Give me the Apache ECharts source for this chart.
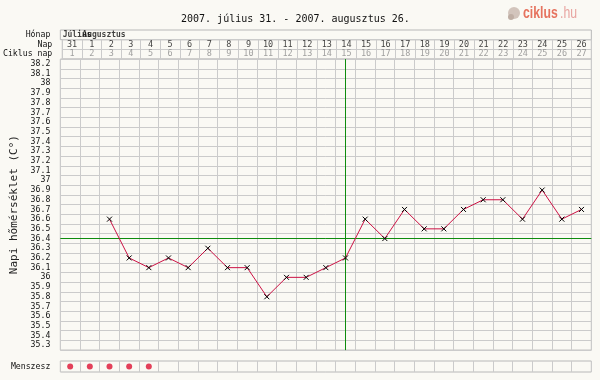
<!DOCTYPE html>
<html><head><meta charset="utf-8">
<script src="https://cdn.jsdelivr.net/npm/echarts@6/dist/echarts.min.js"></script>
<style>html,body{margin:0;padding:0;background:#FAF9F4}#c{width:600px;height:380px}</style>
</head><body><div id="c"></div>
<script>
const titleText = '2007. július 31. - 2007. augusztus 26.';
const monthNames = ['Július', 'Augusztus'];
const monthStartDays = ['31', '1'];
const days = ['31','1','2','3','4','5','6','7','8','9','10','11','12','13','14','15','16','17','18','19','20','21','22','23','24','25','26'];
const cycleDays = ['1','2','3','4','5','6','7','8','9','10','11','12','13','14','15','16','17','18','19','20','21','22','23','24','25','26','27'];
const tempTicks = ['35.3','35.4','35.5','35.6','35.7','35.8','35.9','36','36.1','36.2','36.3','36.4','36.5','36.6','36.7','36.8','36.9','37','37.1','37.2','37.3','37.4','37.5','37.6','37.7','37.8','37.9','38','38.1','38.2'];
const tempDays = ['2','3','4','5','6','7','8','9','10','11','12','13','14','15','16','17','18','19','20','21','22','23','24','25','26'];
const temps = [36.6,36.2,36.1,36.2,36.1,36.3,36.1,36.1,35.8,36.0,36.0,36.1,36.2,36.6,36.4,36.7,36.5,36.5,36.7,36.8,36.8,36.6,36.9,36.6,36.7];
const coverline = '36.4';
const ovulationDay = '14';
const mensesDays = ['31','1','2','3','4'];

const FONT = 'DejaVu Sans Mono';
const GRID_C = '#CBCBCB';
const BORDER_C = '#B8B8B8';
const GREEN = '#0E8C0E';
const L = 60.33, W = 531, RH = 9.7;

function catX(gi, split) {
  return {type:'category', gridIndex:gi, data:days, boundaryGap:true,
    axisLine:{show:false}, axisTick:{show:false}, axisLabel:{show:false},
    splitLine:{show:split, interval:0, lineStyle:{color:GRID_C, width:1}}};
}
function catY(gi, data, extra) {
  return Object.assign({type:'category', gridIndex:gi, data:data, boundaryGap:true,
    axisLine:{show:false}, axisTick:{show:false},
    axisLabel:{show:true, interval:0, margin:10, fontFamily:FONT, fontSize:8.2, color:'#111'},
    splitLine:{show:true, interval:0, lineStyle:{color:GRID_C, width:1}}}, extra||{});
}
const mlBase = {silent:true, symbol:'none', label:{show:false}, emphasis:{disabled:true},
  lineStyle:{color:GREEN, width:1, type:'solid', opacity:1}};

const chart = echarts.init(document.getElementById('c'), null, {renderer:'canvas'});
chart.setOption({
  backgroundColor:'#FAF9F4',
  animation:false,
  title:{text:titleText, left:176, top:9, textStyle:{fontFamily:FONT, fontSize:10, fontWeight:'normal', color:'#111'}},
  graphic:[
    {type:'circle', shape:{cx:514, cy:13, r:6}, style:{fill:'#D2C4BC'}},
    {type:'circle', shape:{cx:511, cy:17, r:3}, style:{fill:'#BFAEA4'}},
    {type:'text', x:523, y:5, scaleX:0.72, style:{text:'ciklus', font:'bold 17px "Liberation Sans"', fill:'#E6735F'}},
    {type:'text', x:560, y:5, scaleX:0.72, style:{text:'.hu', font:'17px "Liberation Sans"', fill:'#E8A4A0'}}
  ],
  grid:[
    {left:L, top:30, width:W, height:RH, show:true, borderColor:BORDER_C, borderWidth:1, backgroundColor:'transparent'},
    {left:L, top:30+RH, width:W, height:2*RH, show:true, borderColor:BORDER_C, borderWidth:1, backgroundColor:'transparent'},
    {left:L, top:30+3*RH, width:W, height:30*RH, show:true, borderColor:BORDER_C, borderWidth:1, backgroundColor:'transparent'},
    {left:L, top:361, width:W, height:11, show:true, borderColor:BORDER_C, borderWidth:1, backgroundColor:'transparent'}
  ],
  xAxis:[catX(0,false), catX(1,true), catX(2,true), catX(3,true)],
  yAxis:[
    catY(0, ['Hónap'], {splitLine:{show:false}}),
    catY(1, ['Ciklus nap','Nap']),
    catY(2, tempTicks, {name:'Napi hőmérséklet (C°)', nameLocation:'middle', nameGap:39,
      nameTextStyle:{fontFamily:FONT, fontSize:11, color:'#222'}}),
    catY(3, ['Menszesz'], {splitLine:{show:false}})
  ],
  series:[
    {type:'scatter', xAxisIndex:0, yAxisIndex:0, symbolSize:0, silent:true,
      data: monthNames.map((m,i)=>[monthStartDays[i],'Hónap',m]),
      label:{show:true, position:'right', distance:0, offset:[-7.5,0], formatter:p=>p.value[2],
        fontFamily:FONT, fontSize:8, fontWeight:'bold', color:'#111'}},
    {type:'scatter', xAxisIndex:1, yAxisIndex:1, symbolSize:0, silent:true,
      data: days.map(d=>[d,'Nap',d]),
      label:{show:true, position:'inside', formatter:p=>p.value[2], fontFamily:FONT, fontSize:8.5, color:'#111'}},
    {type:'scatter', xAxisIndex:1, yAxisIndex:1, symbolSize:0, silent:true,
      data: days.map((d,i)=>[d,'Ciklus nap',cycleDays[i]]),
      label:{show:true, position:'inside', formatter:p=>p.value[2], fontFamily:FONT, fontSize:8.5, color:'#8A8A8A'}},
    {type:'line', xAxisIndex:2, yAxisIndex:2, silent:true, data:[], z:3,
      markLine:Object.assign({}, mlBase, {data:[{yAxis:coverline}]})},
    {type:'line', xAxisIndex:2, yAxisIndex:2, silent:true, data:[], z:3,
      markLine:Object.assign({}, mlBase, {data:[{xAxis:ovulationDay}]})},
    {type:'line', xAxisIndex:2, yAxisIndex:2, silent:true, showAllSymbol:true,
      data: tempDays.map((d,i)=>[d, String(temps[i])]),
      lineStyle:{color:'#CC1144', width:1},
      symbol:'path://M0,0L10,10M10,0L0,10', symbolSize:5,
      itemStyle:{color:'#000', borderColor:'#000', borderWidth:1},
      z:5},
    {type:'scatter', xAxisIndex:3, yAxisIndex:3, silent:true, symbol:'circle', symbolSize:6,
      itemStyle:{color:'#DD1133'},
      data: mensesDays.map(d=>[d,'Menszesz'])}
  ]
});
</script></body></html>
